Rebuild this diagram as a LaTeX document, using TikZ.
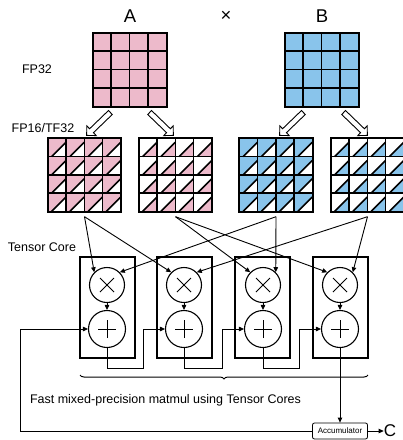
\documentclass[tikz,border=0pt]{standalone}
\usepackage{fontspec}
\setmainfont{Liberation Sans}
\usetikzlibrary{arrows.meta,shapes.arrows,decorations.pathreplacing,calc}
\definecolor{pinkc}{RGB}{237,186,203}
\definecolor{bluec}{RGB}{137,196,235}
\newcommand\fpfull[4]{%
  \node[draw, line width=1.4pt, fill=#4, minimum size=74pt, inner sep=0] (#1) at (#2,#3) {};
  \foreach \k in {1,2,3}{
    \draw[line width=1.4pt] ($(#1.north west)+(\k*18.5,0)$) -- ($(#1.south west)+(\k*18.5,0)$);
    \draw[line width=1.4pt] ($(#1.north west)+(0,\k*18.5)$) -- ($(#1.north east)+(0,\k*18.5)$);
  }
  \draw[line width=1.4pt] (#1.north west) rectangle (#1.south east);
}
\newcommand\fphalf[5]{%
  \node[minimum size=73pt, inner sep=0, fill=#4] (#1) at (#2,#3) {};
  \foreach \i in {0,...,3}{\foreach \j in {0,...,3}{
    \fill[#5] ($(#1.north west)+(\i*18.25+4,\j*18.25+18.25)$) -- ++(14.25,-14.25) -- ++(0,14.25) -- cycle;
    \draw[line width=1.6pt] ($(#1.north west)+(\i*18.25+4,\j*18.25+18.25)$) -- ++(14.25,-14.25);
  }}
  \foreach \k in {1,2,3}{
    \draw[line width=1.4pt] ($(#1.north west)+(\k*18.25,0)$) -- ($(#1.south west)+(\k*18.25,0)$);
    \draw[line width=1.4pt] ($(#1.north west)+(0,\k*18.25)$) -- ($(#1.north east)+(0,\k*18.25)$);
  }
  \draw[line width=1.8pt] (#1.north west) rectangle (#1.south east);
}
\begin{document}
\begin{tikzpicture}[x=1pt,y=-1pt,
  lbl/.style={inner sep=0, font=\fontsize{12.5}{14}\selectfont},
  big/.style={inner sep=0, font=\fontsize{18.5}{20}\selectfont},
  hollow/.style={single arrow, draw, fill=white, line width=0.9pt, minimum height=33pt, inner sep=2.3pt, single arrow head extend=4pt},
  tcbox/.style={draw, line width=1.2pt, minimum width=55pt, minimum height=101pt, inner sep=0},
  mulnode/.style={circle, draw, fill=white, line width=1.1pt, minimum size=35pt, inner sep=0,
    path picture={\draw[line width=1pt] ([shift={(-7pt,-7pt)}]path picture bounding box.center) -- ([shift={(7pt,7pt)}]path picture bounding box.center)
      ([shift={(-7pt,7pt)}]path picture bounding box.center) -- ([shift={(7pt,-7pt)}]path picture bounding box.center);}},
  addnode/.style={circle, draw, fill=white, line width=1.1pt, minimum size=37pt, inner sep=0,
    path picture={\draw[line width=1pt] ([xshift=-9pt]path picture bounding box.center) -- ([xshift=9pt]path picture bounding box.center)
      ([yshift=-9pt]path picture bounding box.center) -- ([yshift=9pt]path picture bounding box.center);}},
  arr/.style={line width=0.9pt, -{Triangle[length=5pt,width=4.5pt]}}
]
\useasboundingbox (0,0) rectangle (403,440);

% labels
\node[big] (lA) at (130,16) {A};
\node[big] (lX) at (226,16) {×};
\node[big] (lB) at (322,16) {B};
\node[lbl] (lfp32) at (37,69) {FP32};
\node[lbl] (lfp16) at (43,128) {FP16/TF32};
\node[lbl] (ltc) at (42,247) {Tensor Core};

% FP32 matrices
\fpfull{MA}{130}{70}{pinkc}
\fpfull{MB}{322}{70}{bluec}

% FP16 matrices
\fphalf{A1}{84.5}{175}{pinkc}{white}
\fphalf{A2}{175.5}{175}{white}{pinkc}
\fphalf{B1}{276}{175}{bluec}{white}
\fphalf{B2}{367.5}{175}{white}{bluec}

% hollow arrows
\node[hollow, rotate=224] (hA1) at (99.5,123) {};
\node[hollow, rotate=316] (hA2) at (160.5,123) {};
\node[hollow, rotate=224] (hB1) at (292.5,123) {};
\node[hollow, rotate=316] (hB2) at (354.5,123) {};

% tensor cores
\foreach \n/\x in {1/107.5,2/184.5,3/262.5,4/340.5}{
  \node[tcbox] (tc\n) at (\x,307.5) {};
}
\foreach \n/\x in {1/107,2/184,3/263,4/340}{
  \node[mulnode] (m\n) at (\x,285) {};
  \node[addnode] (a\n) at (\x,329) {};
  \draw[arr] (m\n) -- (a\n);
}

% matrix outputs
\coordinate (A1o) at ($(A1.south)+(0,5)$);
\coordinate (A2o) at ($(A2.south)+(0,5)$);
\coordinate (B1o) at ($(B1.south)+(0,5)$);
\coordinate (B2o) at ($(B2.south)+(0,5)$);
\draw[arr] (A1o) -- (m1.north west);
\draw[arr] (A1o) -- (m2.north west);
\draw[arr] (A2o) -- (m3.north west);
\draw[arr] (A2o) -- (m4.north west);
\draw[arr] (B1o) -- (m1.north east);
\draw[arr] (B1o) -- (m3.north east);
\draw[arr] (B2o) -- (m2.north east);
\draw[arr] (B2o) -- (m4.north east);

% accumulation chain
\draw[arr] (a1.south) -- ++(0,20) -| ([xshift=-22pt]a2.west) -- (a2.west);
\draw[arr] (a2.south) -- ++(0,20) -| ([xshift=-22pt]a3.west) -- (a3.west);
\draw[arr] (a3.south) -- ++(0,20) -| ([xshift=-22pt]a4.west) -- (a4.west);

% brace and caption
\draw[line width=1pt, decorate, decoration={brace, mirror, amplitude=4pt}] (80,375) -- (368,375);
\node[lbl] (cap) at (165.5,400) {Fast mixed-precision matmul using Tensor Cores};

% accumulator
\node[draw, rounded corners=2pt, line width=0.8pt, minimum width=55pt, minimum height=16pt, inner sep=0,
  font=\fontsize{8}{9}\selectfont] (acc) at (340,431) {Accumulator};
\node[inner sep=0, font=\fontsize{17}{18}\selectfont] (C) at (390,431) {C};
\draw[arr] (a4.south) -- (acc.north);
\draw[arr] (acc.east) -- (C.west);
\draw[arr] (acc.west) -| ([xshift=-68pt]a1.west) -- (a1.west);
\end{tikzpicture}
\end{document}
